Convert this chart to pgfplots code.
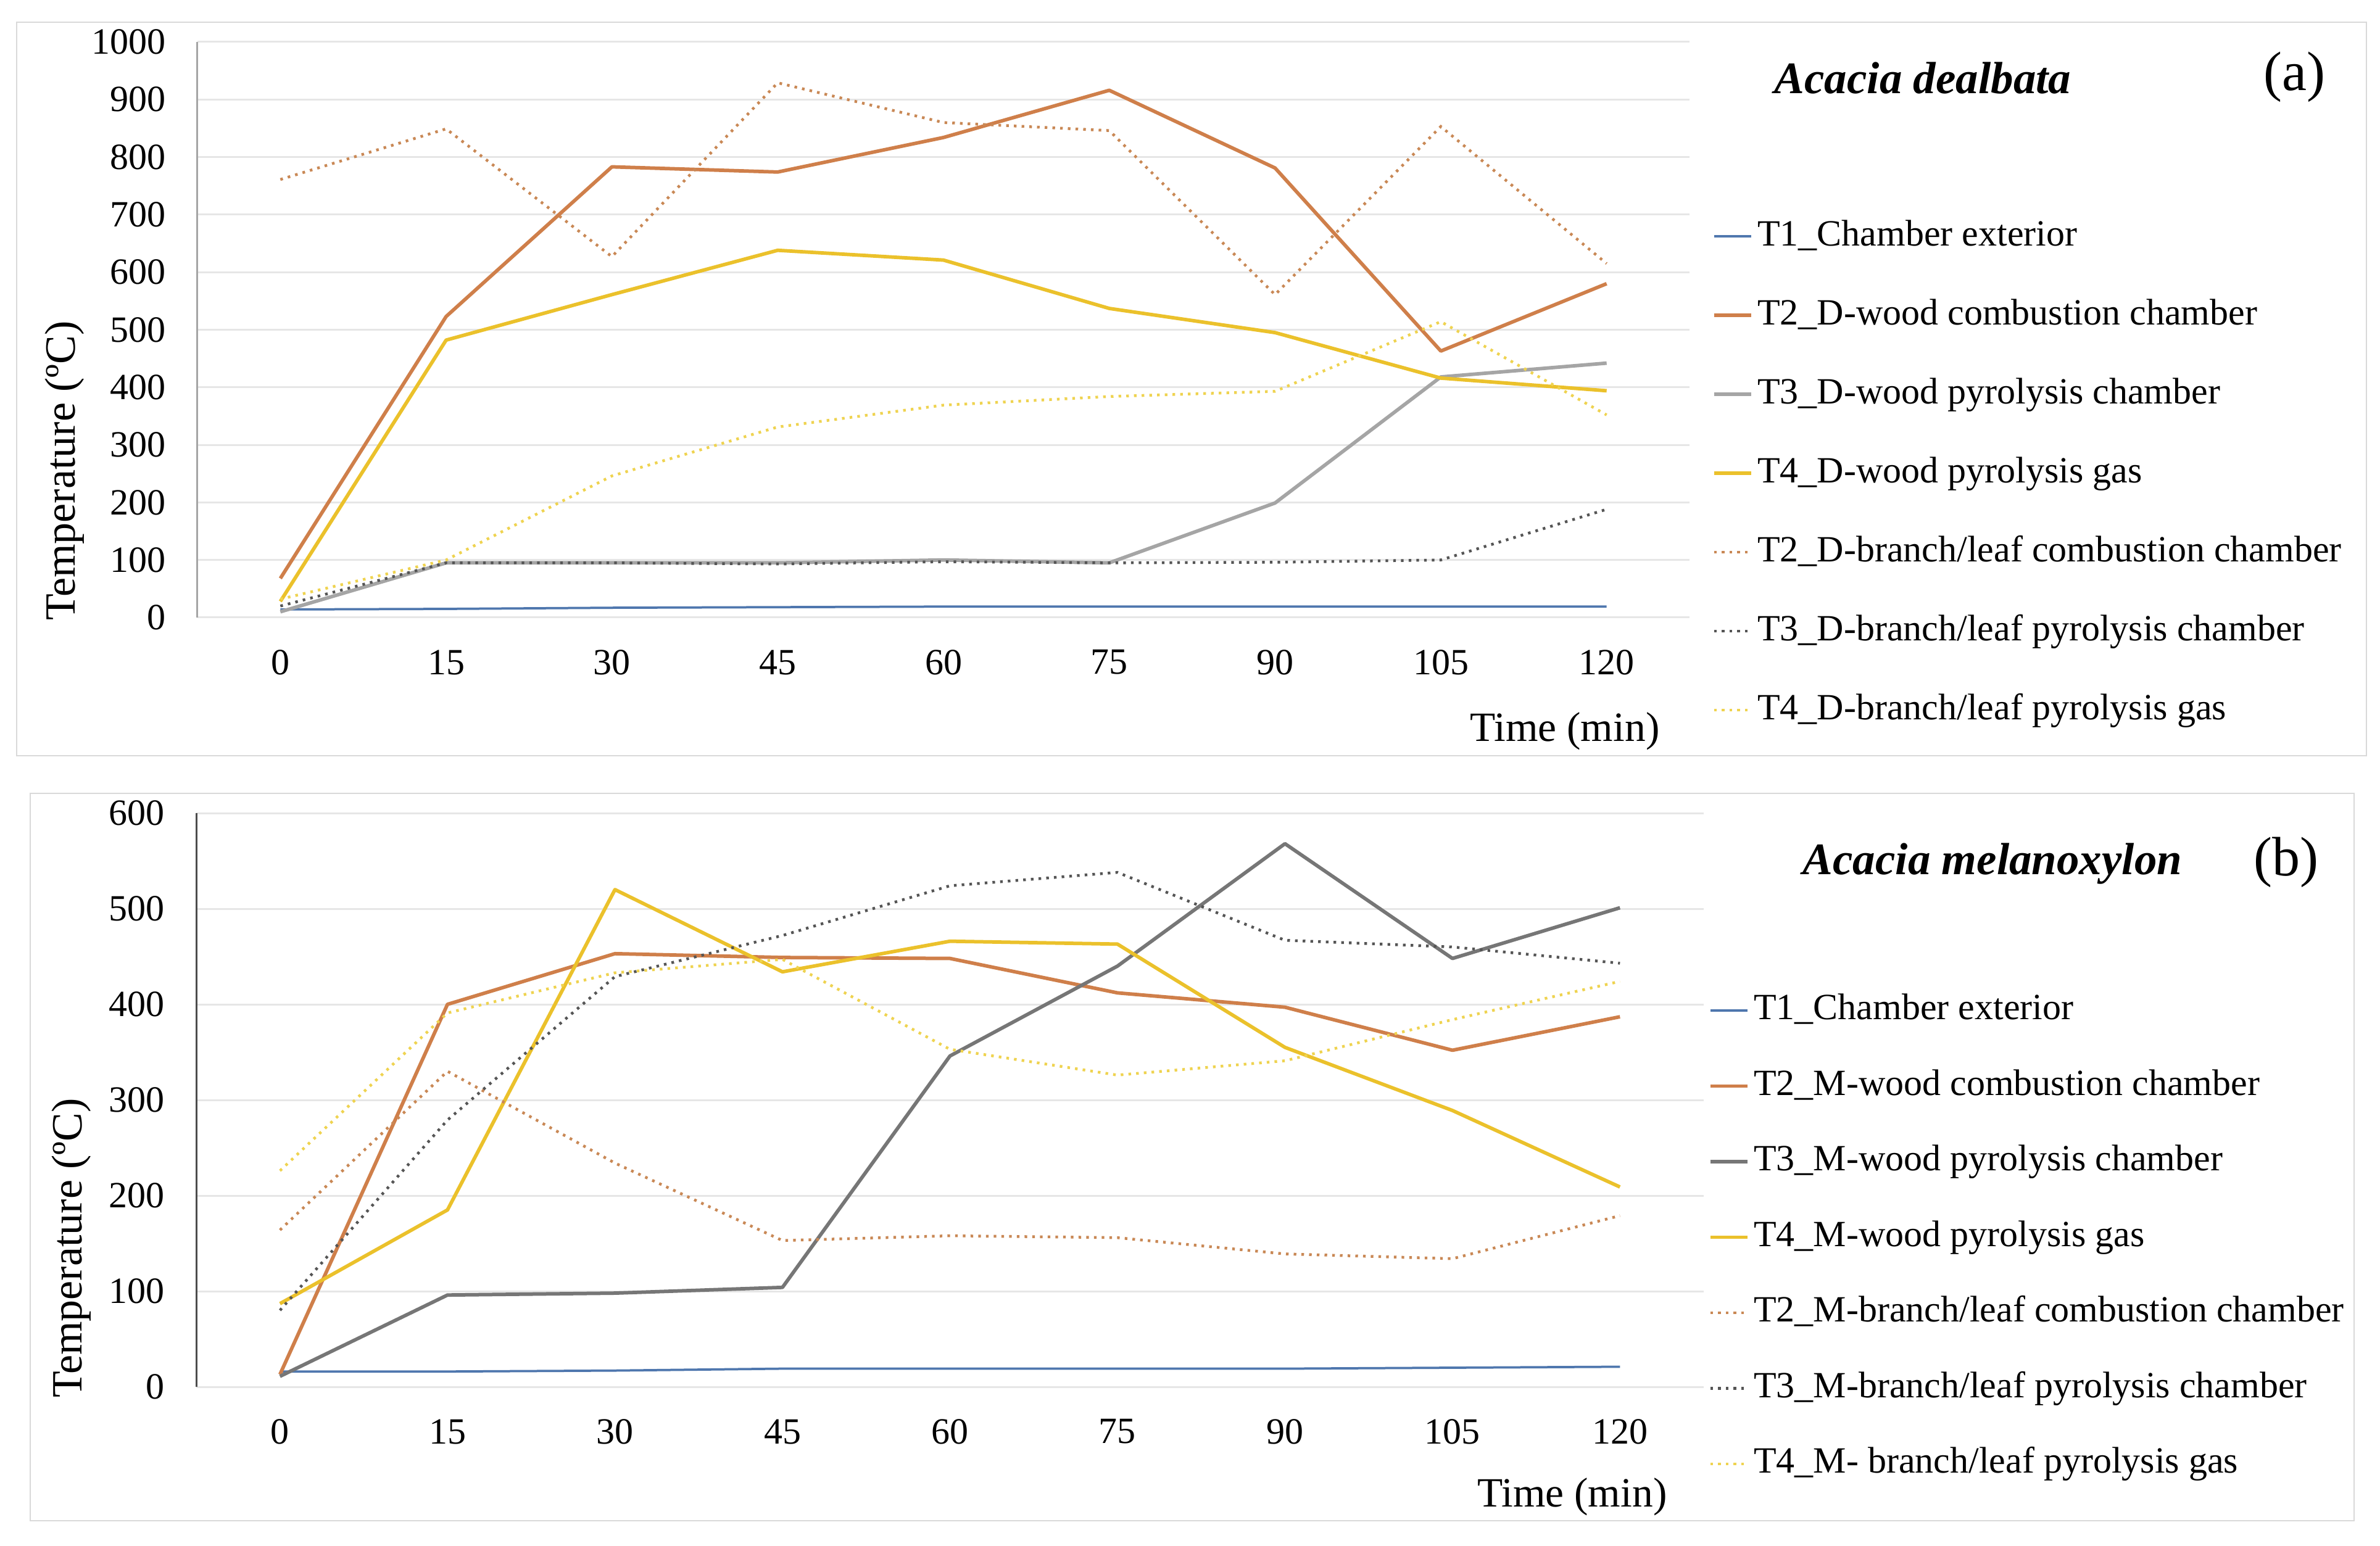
\documentclass[border=0pt]{standalone}
\usepackage{fontspec}
\setmainfont{Liberation Serif}
\usepackage{pgfplots}
\pgfplotsset{compat=1.18}

\definecolor{cA}{HTML}{4F77AE}
\definecolor{cB}{HTML}{CF7F4A}
\definecolor{cC}{HTML}{A5A5A5}
\definecolor{cD}{HTML}{EBC12B}
\definecolor{cE}{HTML}{C98855}
\definecolor{cF}{HTML}{555555}
\definecolor{cG}{HTML}{EFD350}
\definecolor{cH}{HTML}{767676}
\definecolor{gridc}{HTML}{E6E6E6}
\definecolor{framec}{HTML}{D9D9D9}

\pgfplotstableread{
t   T1  T2   T3   T4   B2   B3   B4
0   14  68   10   28   761  20   32
15  15  523  95   482  849  95   100
30  17  783  95   561  627  95   246
45  18  774  95   638  929  93   331
60  19  834  100  621  860  97   369
75  19  916  95   537  846  95   384
90  19  781  199  495  561  96   393
105 19  463  418  416  853  100  514
120 19  580  442  394  615  188  352
}\tabA

\pgfplotstableread{
t   T1  T2   T3   T4   B2   B3   B4
0   16  13   11   87   164  80   226
15  16  400  96   185  330  279  391
30  17  453  98   520  234  429  433
45  19  449  104  434  153  472  447
60  19  448  346  466  158  524  353
75  19  412  440  463  156  538  326
90  19  397  568  355  139  467  341
105 20  352  448  289  134  460  384
120 21  387  501  209  179  443  424
}\tabB

\pgfplotsset{
  myax/.style={
    scale only axis,
    xmin=-7.5, xmax=127.5, ymin=0,
    xtick={0,15,...,120},
    major tick length=0pt,
    axis x line*=bottom, axis y line*=left,
    x axis line style={draw=gridc, line width=0.6pt, -},
    ymajorgrids,
    grid style={draw=gridc, line width=0.6pt},
    tick label style={font=\fontsize{12}{14}\selectfont},
    xticklabel style={yshift=-7pt},
    yticklabel style={xshift=-6.8pt},
    /pgf/number format/assume math mode=true,
    /pgf/number format/1000 sep={},
    clip=false,
    legend cell align=left,
    legend style={draw=none, fill=none, inner sep=0pt, outer sep=0pt,
      anchor=north west,
      font=\fontsize{12}{14}\selectfont,
      nodes={inner sep=0pt, text height=9pt, text depth=3pt},
      /tikz/every odd column/.append style={column sep=1.5pt}},
    legend image code/.code={\draw[#1] (0pt,0pt) -- (12pt,0pt);},
  },
  solidl/.style={line width=1.15pt, line join=round},
  dotl/.style={line width=0.9pt, dash pattern=on 0.85pt off 1.65pt},
}

\begin{document}
\begin{tikzpicture}
\path[use as bounding box] (0pt,0pt) rectangle (771.4pt,501pt);
\fill[white] (0pt,0pt) rectangle (771.4pt,501pt);
\draw[framec, line width=0.5pt] (5.4pt,256pt) rectangle (767pt,493.8pt);
\draw[framec, line width=0.5pt] (9.8pt,8pt) rectangle (763pt,243.8pt);

% ---------------- (a)
\begin{axis}[myax,
  width=483.6pt, height=186.6pt,
  at={(64pt,300.8pt)}, anchor=south west,
  ymax=1000, ytick={0,100,...,1000},
  y axis line style={draw=cC, line width=0.6pt, -},
  legend style={at={(1.0153,0.6945)}, row sep=13.6pt},
]
\addplot[cA, line width=0.75pt] table[x=t,y=T1] {\tabA};
\addlegendentry{T1\_Chamber exterior}
\addplot[cB, solidl] table[x=t,y=T2] {\tabA};
\addlegendentry{T2\_D-wood combustion chamber}
\addplot[cC, solidl] table[x=t,y=T3] {\tabA};
\addlegendentry{T3\_D-wood pyrolysis chamber}
\addplot[cD, solidl] table[x=t,y=T4] {\tabA};
\addlegendentry{T4\_D-wood pyrolysis gas}
\addplot[cE, dotl] table[x=t,y=B2] {\tabA};
\addlegendentry{T2\_D-branch/leaf combustion chamber}
\addplot[cF, dotl] table[x=t,y=B3] {\tabA};
\addlegendentry{T3\_D-branch/leaf pyrolysis chamber}
\addplot[cG, dotl] table[x=t,y=B4] {\tabA};
\addlegendentry{T4\_D-branch/leaf pyrolysis gas}
\end{axis}

% ---------------- (b)
\begin{axis}[myax,
  width=488.6pt, height=186pt,
  at={(63.6pt,51.4pt)}, anchor=south west,
  ymax=600, ytick={0,100,...,600},
  y axis line style={draw=black!70, line width=0.6pt, -},
  legend style={at={(1.00327,0.6882)}, row sep=12.5pt},
]
\addplot[cA, line width=0.75pt] table[x=t,y=T1] {\tabB};
\addlegendentry{T1\_Chamber exterior}
\addplot[cB, solidl] table[x=t,y=T2] {\tabB};
\addlegendentry{T2\_M-wood combustion chamber}
\addplot[cH, solidl] table[x=t,y=T3] {\tabB};
\addlegendentry{T3\_M-wood pyrolysis chamber}
\addplot[cD, solidl] table[x=t,y=T4] {\tabB};
\addlegendentry{T4\_M-wood pyrolysis gas}
\addplot[cE, dotl] table[x=t,y=B2] {\tabB};
\addlegendentry{T2\_M-branch/leaf combustion chamber}
\addplot[cF, dotl] table[x=t,y=B3] {\tabB};
\addlegendentry{T3\_M-branch/leaf pyrolysis chamber}
\addplot[cG, dotl] table[x=t,y=B4] {\tabB};
\addlegendentry{T4\_M- branch/leaf pyrolysis gas}
\end{axis}

% labels
\node[rotate=90, font=\fontsize{14}{16}\selectfont] at (21pt,348.4pt) {Temperature (ºC)};
\node[rotate=90, font=\fontsize{14}{16}\selectfont] at (23.2pt,96.4pt) {Temperature (ºC)};
\node[font=\fontsize{13.5}{16}\selectfont] at (507.2pt,264pt) {Time (min)};
\node[font=\fontsize{13.5}{16}\selectfont] at (509.6pt,15.8pt) {Time (min)};
\node[font=\fontsize{14.6}{17}\selectfont\bfseries\itshape] at (623.2pt,475.6pt) {Acacia dealbata};
\node[font=\fontsize{14.6}{17}\selectfont\bfseries\itshape] at (645.8pt,221pt) {Acacia melanoxylon};
\node[font=\fontsize{18}{20}\selectfont] at (743.6pt,476pt) {(a)};
\node[font=\fontsize{18}{20}\selectfont] at (741pt,221.4pt) {(b)};
\end{tikzpicture}
\end{document}
